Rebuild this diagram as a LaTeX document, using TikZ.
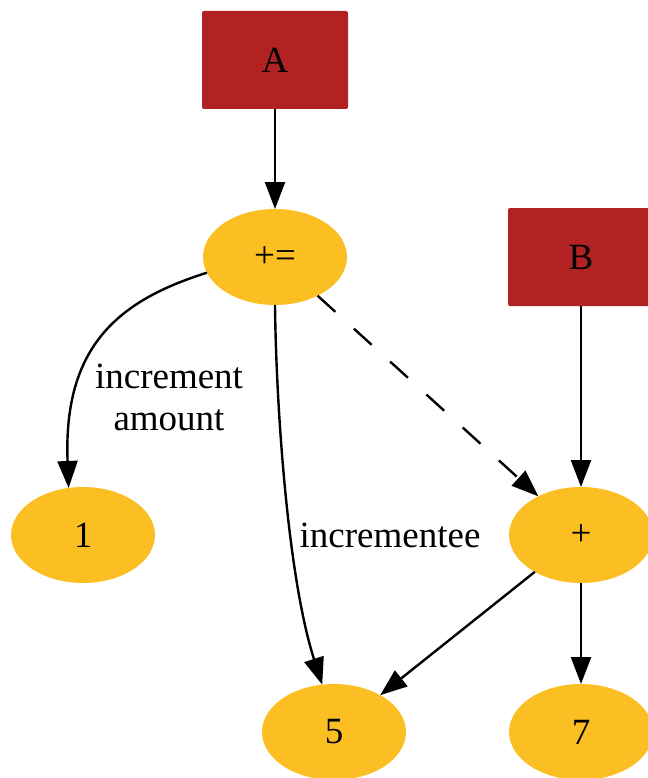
\documentclass[tikz,border=0pt]{standalone}
\usepackage{fontspec}
\setmainfont{Liberation Serif}
\usetikzlibrary{arrows.meta,shapes.geometric}
\definecolor{boxred}{RGB}{178,34,34}
\definecolor{ovalyellow}{RGB}{251,191,36}
\begin{document}
\begin{tikzpicture}[x=1pt,y=-1pt,
  every node/.style={font=\fontsize{37}{42}\selectfont, inner sep=0pt, outer sep=0pt},
  redbox/.style={rectangle, fill=boxred, rounded corners=2pt, minimum width=146pt, minimum height=98pt},
  oval/.style={ellipse, fill=ovalyellow, minimum width=144pt, minimum height=96pt},
  edge/.style={line width=2.4pt, -{Triangle[length=27pt,width=20pt]}},
  dashedge/.style={edge, dash pattern=on 24pt off 25pt},
  lbl/.style={align=center}]
\useasboundingbox (0,0) rectangle (647,778);
\node[redbox] (a) at (275,60) {A};
\node[redbox] (b) at (581,257) {B};
\node[oval] (pe) at (275,257) {+=};
\node[oval] (one) at (83,535) {1};
\node[oval] (plus) at (581,535) {+};
\node[oval] (five) at (334,732) {5};
\node[oval] (seven) at (581,732) {7};
\draw[edge] (a) -- (pe);
\draw[edge] (b) -- (plus);
\draw[edge] (pe.193) .. controls (120,300) and (63,345) .. (one.107);
\draw[edge] (pe.south) .. controls (276,400) and (287,575) .. (five.104);
\draw[dashedge] (pe) -- (plus);
\draw[edge] (plus) -- (five);
\draw[edge] (plus) -- (seven);
\node[lbl] (l1) at (169,397) {increment\\amount};
\node[anchor=base] (l2) at (390,547) {incrementee};
\end{tikzpicture}
\end{document}
